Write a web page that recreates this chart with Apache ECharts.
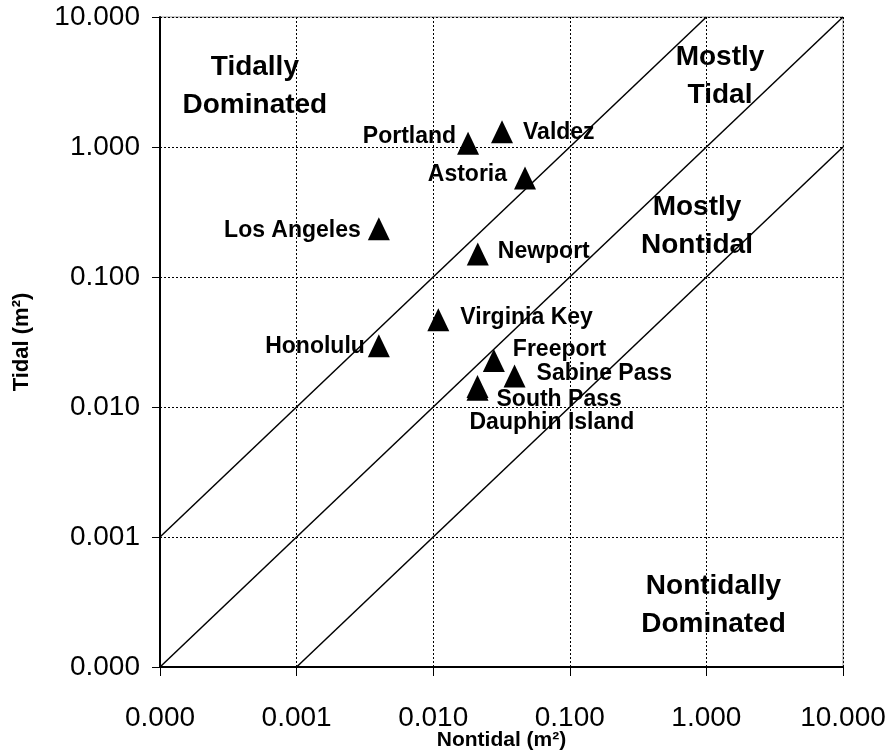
<!DOCTYPE html>
<html>
<head>
<meta charset="utf-8">
<title>Tidal vs Nontidal</title>
<script src="https://cdn.jsdelivr.net/npm/echarts@6/dist/echarts.min.js"></script>
<style>
  html, body { margin: 0; padding: 0; background: #fff; }
  #chart { width: 892px; height: 752px; }
</style>
</head>
<body>
<div id="chart"></div>
<script>
// Station names and their variance components (m^2)
const sites = ['Portland', 'Valdez', 'Astoria', 'Los Angeles', 'Newport', 'Virginia Key',
  'Honolulu', 'Freeport', 'Sabine Pass', 'South Pass', 'Dauphin Island'];
const nontidal = [0.0180, 0.0319, 0.0470, 0.0040, 0.0212, 0.0109, 0.0040, 0.0278, 0.0394, 0.0211, 0.0211];
const tidal = [1.07, 1.31, 0.578, 0.235, 0.150, 0.047, 0.0296, 0.0228, 0.0173, 0.0144, 0.0137];

// Axis range and decade ticks
const axisMin = 0.0001;
const axisMax = 10;

// Ratio lines tidal = k * nontidal separating the regimes
const ratios = [10, 1, 0.1];

// Regime annotations placed in data space
const regionText = ['Tidally\nDominated', 'Mostly\nTidal', 'Mostly\nNontidal', 'Nontidally\nDominated'];
const regionX = [0.000495, 1.258, 0.853, 1.127];
const regionY = [2.94, 3.52, 0.247, 0.000300];

// Label placement for each station: alignment and pixel offset from the marker
const labelAlign = ['right', 'left', 'right', 'right', 'left', 'left', 'right', 'left', 'left', 'left', 'left'];
const labelOffset = [[-12, -7], [21, 1], [-18, -3], [-18, 2], [20, -2], [22, -2], [-14, 1], [19, -11], [22, -2], [19, 13], [-8, 33]];

const FONT = 'Liberation Sans, Arial, sans-serif';

function ratioLine(k) {
  // clip the line y = k*x to the plotting square
  const x0 = Math.max(axisMin, axisMin / k);
  const x1 = Math.min(axisMax, axisMax / k);
  return [[x0, k * x0], [x1, k * x1]];
}

const lineSeries = ratios.map(k => ({
  type: 'line',
  data: ratioLine(k),
  symbol: 'none',
  silent: true,
  z: 2,
  lineStyle: { color: '#000', width: 1.5 }
}));

const stationSeries = {
  type: 'scatter',
  symbol: 'triangle',
  symbolSize: [22, 23],
  z: 5,
  itemStyle: { color: '#000', opacity: 1 },
  data: sites.map((name, i) => ({
    name,
    value: [nontidal[i], tidal[i]],
    label: {
      show: true,
      position: 'inside',
      align: labelAlign[i],
      verticalAlign: 'middle',
      offset: labelOffset[i],
      formatter: name,
      color: '#000',
      textBorderWidth: 0,
      fontFamily: FONT,
      fontWeight: 'bold',
      fontSize: 23
    }
  }))
};

const regionSeries = {
  type: 'scatter',
  symbol: 'circle',
  symbolSize: 2,
  silent: true,
  z: 4,
  itemStyle: { color: 'rgba(255,255,255,0)', opacity: 1 },
  data: regionText.map((t, i) => ({
    value: [regionX[i], regionY[i]],
    label: {
      show: true,
      position: 'inside',
      formatter: t,
      align: 'center',
      verticalAlign: 'middle',
      color: '#000',
      opacity: 1,
      textBorderWidth: 0,
      fontFamily: FONT,
      fontWeight: 'bold',
      fontSize: 28,
      lineHeight: 38
    }
  }))
};

const gridLine = { show: true, lineStyle: { color: '#000', type: [2, 2], width: 1 } };

const chart = echarts.init(document.getElementById('chart'), null, { renderer: 'canvas' });
chart.setOption({
  animation: false,
  backgroundColor: '#fff',
  grid: {
    left: 160, top: 17, right: 49, bottom: 85,
    outerBoundsMode: 'none', containLabel: false,
    show: true, borderColor: '#999', borderWidth: 1, backgroundColor: 'transparent'
  },
  xAxis: {
    type: 'log', logBase: 10, min: axisMin, max: axisMax,
    name: 'Nontidal (m²)', nameLocation: 'middle', nameGap: 73, nameMoveOverlap: false,
    nameTextStyle: { fontFamily: FONT, fontWeight: 'bold', fontSize: 21, color: '#000', verticalAlign: 'middle' },
    axisLine: { show: true, lineStyle: { color: '#000', width: 2 } },
    axisTick: { show: true, length: 9, lineStyle: { color: '#000', width: 1 } },
    minorTick: { show: false },
    splitLine: gridLine,
    axisLabel: {
      margin: 37, color: '#000', fontFamily: FONT, fontSize: 28,
      formatter: v => Number(v).toFixed(3)
    }
  },
  yAxis: {
    type: 'log', logBase: 10, min: axisMin, max: axisMax,
    name: 'Tidal (m²)', nameLocation: 'middle', nameGap: 138, nameRotate: 90, nameMoveOverlap: false,
    nameTextStyle: { fontFamily: FONT, fontWeight: 'bold', fontSize: 22, color: '#000', verticalAlign: 'middle' },
    axisLine: { show: true, lineStyle: { color: '#000', width: 2 } },
    axisTick: { show: true, length: 8, lineStyle: { color: '#000', width: 1 } },
    minorTick: { show: false },
    splitLine: gridLine,
    axisLabel: {
      margin: 20, color: '#000', fontFamily: FONT, fontSize: 28,
      formatter: v => Number(v).toFixed(3)
    }
  },
  series: [...lineSeries, regionSeries, stationSeries]
});
</script>
</body>
</html>
